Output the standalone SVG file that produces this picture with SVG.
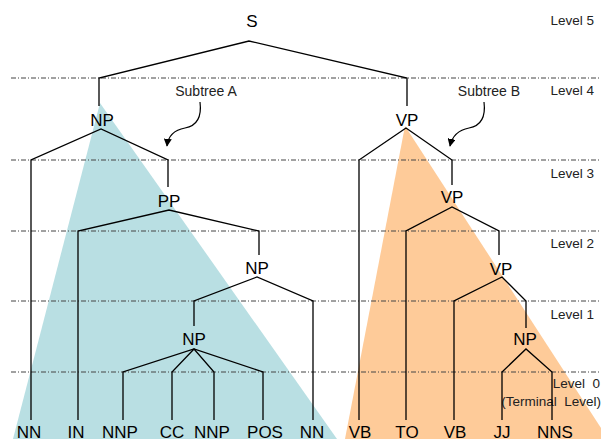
<svg xmlns="http://www.w3.org/2000/svg" width="601" height="439" viewBox="0 0 601 439">
  <style>
    .tag { font-family: "Liberation Sans", Arial, sans-serif; font-size: 17px; fill: #000; text-anchor: middle; }
    .lvl { font-family: "Liberation Sans", Arial, sans-serif; font-size: 13.5px; fill: #222; text-anchor: end; }
    .note { font-family: "Liberation Sans", Arial, sans-serif; font-size: 14px; fill: #222; text-anchor: middle; }
    .edge { fill: none; stroke: #000; stroke-width: 1.3; stroke-linejoin: miter; }
    .level { stroke: #444; stroke-width: 1; stroke-dasharray: 5 2 1 2; }
    .pointer { fill: none; stroke: #000; stroke-width: 1.2; marker-end: url(#tip); }
  </style>
  <defs>
    <marker id="tip" viewBox="0 0 10 10" refX="9" refY="5" markerWidth="8" markerHeight="8" markerUnits="userSpaceOnUse" orient="auto">
      <path d="M0,0 L10,5 L0,10 z" fill="#000"/>
    </marker>
  </defs>
  <rect width="601" height="439" fill="#fff"/>

  <!-- shaded subtrees -->
  <g id="subtree-a-shade"><polygon points="100,103 13,439 337,439" fill="#b9dfe3"/></g>
  <g id="subtree-b-shade"><polygon points="405,126 345,439 601,439 601,428" fill="#fecb99"/></g>

  <!-- level separators -->
  <g id="levels">
    <line class="level" x1="11" y1="78" x2="601" y2="78"/>
    <line class="level" x1="11" y1="160" x2="601" y2="160"/>
    <line class="level" x1="11" y1="231" x2="601" y2="231"/>
    <line class="level" x1="11" y1="301" x2="601" y2="301"/>
    <line class="level" x1="11" y1="372" x2="601" y2="372"/>
    <text class="lvl" x="594" y="25">Level 5</text>
    <text class="lvl" x="594" y="95">Level 4</text>
    <text class="lvl" x="594" y="178">Level 3</text>
    <text class="lvl" x="594" y="248">Level 2</text>
    <text class="lvl" x="594" y="319">Level 1</text>
    <text class="lvl" x="600" y="388">Level&#160;&#160;0</text>
    <text class="lvl" x="601" y="406">(Terminal&#160;&#160;Level)</text>
  </g>

  <!-- tree edges -->
  <g id="connectors">
    <path class="edge" d="M99,106 V78 L249,41 L407,78 V106"/>
    <path class="edge" d="M31,420 V160 L101,129 L168,160 V187"/>
    <path class="edge" d="M78,420 V231 L169,210 L259,231 V255"/>
    <path class="edge" d="M194,326 V301 L257,277 L313,301 V420"/>
    <path class="edge" d="M123,420 V372 L194,349 L263,372 V420"/>
    <path class="edge" d="M172,420 V372 L194,349 L214,372 V420"/>
    <path class="edge" d="M359,420 V160 L406,128 L452,160 V185"/>
    <path class="edge" d="M406,420 V231 L452,207 L499,231 V255"/>
    <path class="edge" d="M454,420 V301 L502,277 L526,301 V328"/>
    <path class="edge" d="M502,420 V372 L526,349 L552,372 V420"/>
    <path class="pointer" d="M200,102 C202,118 196,126 185,128 C174,130 168,137 167,146"/>
    <path class="pointer" d="M484,102 C486,118 480,126 469,128 C458,130 452,137 450,146"/>
  </g>

  <g id="subtree-a-label"><text class="note" x="206" y="96">Subtree A</text></g>
  <g id="subtree-b-label"><text class="note" x="489" y="96">Subtree B</text></g>

  <!-- phrase nodes -->
  <g id="s"><text class="tag" x="252" y="27">S</text></g>
  <g id="np-top"><text class="tag" x="102" y="126">NP</text></g>
  <g id="vp-top"><text class="tag" x="407" y="126">VP</text></g>
  <g id="pp"><text class="tag" x="169" y="207">PP</text></g>
  <g id="vp-2"><text class="tag" x="452" y="203">VP</text></g>
  <g id="np-mid"><text class="tag" x="257" y="274">NP</text></g>
  <g id="vp-3"><text class="tag" x="501" y="275">VP</text></g>
  <g id="np-low"><text class="tag" x="194" y="345">NP</text></g>
  <g id="np-right"><text class="tag" x="525" y="345">NP</text></g>

  <!-- terminal tags -->
  <g id="t-nn1"><text class="tag" x="29" y="438">NN</text></g>
  <g id="t-in"><text class="tag" x="76" y="438">IN</text></g>
  <g id="t-nnp1"><text class="tag" x="120" y="438">NNP</text></g>
  <g id="t-cc"><text class="tag" x="172" y="438">CC</text></g>
  <g id="t-nnp2"><text class="tag" x="212" y="438">NNP</text></g>
  <g id="t-pos"><text class="tag" x="265" y="438">POS</text></g>
  <g id="t-nn2"><text class="tag" x="312" y="438">NN</text></g>
  <g id="t-vb1"><text class="tag" x="360" y="438">VB</text></g>
  <g id="t-to"><text class="tag" x="407" y="438">TO</text></g>
  <g id="t-vb2"><text class="tag" x="455" y="438">VB</text></g>
  <g id="t-jj"><text class="tag" x="502" y="438">JJ</text></g>
  <g id="t-nns"><text class="tag" x="555" y="438">NNS</text></g>
</svg>
